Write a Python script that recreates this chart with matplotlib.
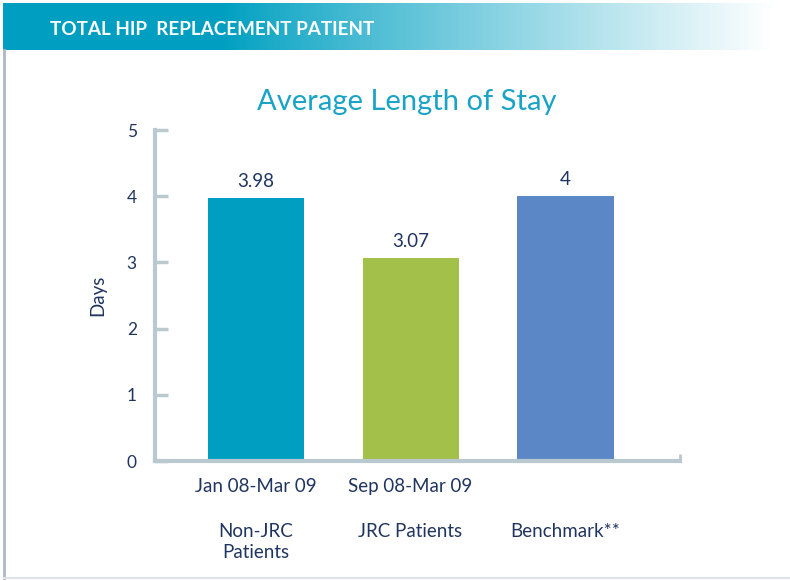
import numpy as np
import matplotlib.pyplot as plt

# data
groups = ["Non-JRC\nPatients", "JRC Patients", "Benchmark**"]
periods = ["Jan 08-Mar 09", "Sep 08-Mar 09", ""]
days = [3.98, 3.07, 4.0]
value_labels = ["3.98", "3.07", "4"]
bar_colors = ["#009fc2", "#a2c04a", "#5b87c6"]

navy = "#1f3560"
spine_col = "#b9c9cf"

plt.rcParams['font.family'] = ['Lato', 'DejaVu Sans']

fig = plt.figure(figsize=(7.9, 5.81), dpi=100)

# header band with teal to white gradient
hdr = fig.add_axes([0.004, 0.914, 0.996, 0.081])
grad = np.linspace(0, 1, 256)
alpha = np.clip((grad - 0.28) / 0.7, 0, 1) ** 0.9
teal = np.array([0.0, 0.627, 0.757])
img = teal[None, :] * (1 - alpha[:, None]) + alpha[:, None]
hdr.imshow(img[None, :, :], aspect='auto', extent=[0, 1, 0, 1])
hdr.set_axis_off()
hdr.text(0.06, 0.44, "TOTAL HIP  REPLACEMENT PATIENT", color="white",
         fontsize=13.6, fontweight='bold', va='center', ha='left')

# frame lines of the panel
fig.add_artist(plt.Line2D([0.005, 0.005], [0.005, 0.914], color="#aeb8c2", lw=2))
fig.add_artist(plt.Line2D([0.005, 1.0], [0.006, 0.006], color="#dde3e8", lw=1.5))

fig.text(0.515, 0.824, "Average Length of Stay", color="#1aa3c6",
         fontsize=21, ha='center', va='center')

ax = fig.add_axes([0.196, 0.2065, 0.665, 0.5697])
x = np.arange(len(days))
ax.bar(x, days, width=0.62, color=bar_colors)
for xi, v, lab in zip(x, days, value_labels):
    ax.text(xi, v + 0.12, lab, ha='center', va='bottom', color=navy, fontsize=13.5)

ax.set_xlim(-0.65, 2.74)
ax.set_ylim(0, 5)
ax.set_yticks(range(6))
ax.tick_params(axis='y', direction='in', length=9, width=2.5, color=spine_col,
               labelcolor=navy, labelsize=12.5, pad=13)
ax.set_xticks(x)
ax.set_xticklabels(periods)
ax.tick_params(axis='x', length=0, labelcolor=navy, labelsize=13.5, pad=12)
ax.set_xticks([2.74], minor=True)
ax.tick_params(axis='x', which='minor', direction='in', length=5, width=2, color=spine_col)
for xi, g in zip(x, groups):
    ax.text(xi, -0.93, g, ha='center', va='top', color=navy, fontsize=13.5,
            linespacing=1.3)

ax.set_ylabel("Days", color=navy, fontsize=13.5, labelpad=15)
for s in ['top', 'right']:
    ax.spines[s].set_visible(False)
for s in ['left', 'bottom']:
    ax.spines[s].set_color(spine_col)
    ax.spines[s].set_linewidth(3)

fig.savefig("out.png", dpi=100)
